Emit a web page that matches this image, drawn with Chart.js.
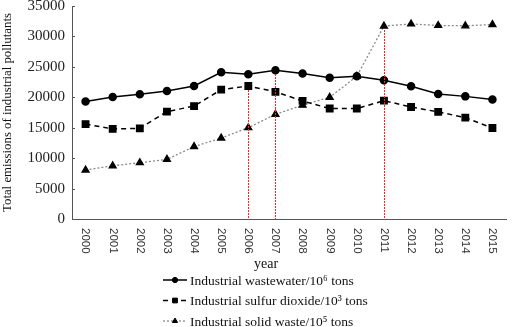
<!DOCTYPE html>
<html>
<head>
<meta charset="utf-8">
<script src="https://cdn.jsdelivr.net/npm/chart.js@4"></script>
<style>
  html, body { margin: 0; padding: 0; background: #fff; }
  #wrap { width: 512px; height: 327px; }
</style>
</head>
<body>
<div id="wrap"><canvas id="chart" width="512" height="327"></canvas></div>
<script>
// DATA
const years = ['2000', '2001', '2002', '2003', '2004', '2005', '2006', '2007',
               '2008', '2009', '2010', '2011', '2012', '2013', '2014', '2015'];
const wastewater = [19300, 20050, 20500, 21050, 21850, 24100, 23800, 24450,
                    23900, 23200, 23450, 22800, 21800, 20550, 20150, 19650];
const sulfurDioxide = [15600, 14800, 14900, 17650, 18550, 21250, 21850, 20900,
                       19400, 18150, 18150, 19450, 18400, 17600, 16650, 14950];
const solidWaste = [8050, 8750, 9250, 9800, 11900, 13300, 15000, 17200,
                    18700, 20000, 23450, 31700, 32050, 31800, 31750, 31950];
const seriesNames = ['Industrial wastewater/10\u2076 tons',
                     'Industrial sulfur dioxide/10\u00B3 tons',
                     'Industrial solid waste/10\u2075 tons'];
const yTicks = [0, 5000, 10000, 15000, 20000, 25000, 30000, 35000];
// red dotted markers: year and the series whose point they reach
const markYears = ['2006', '2007', '2011'];
const markSeries = [1, 0, 2];

const SERIF = '"Liberation Serif", "Times New Roman", serif';
const SANS = '"Liberation Sans", Arial, sans-serif';

// --- extra drawing: rotated year labels, axis title, red markers, legend ---
const extras = {
    id: 'extras',
    afterDatasetsDraw(chart) {
        const ctx = chart.ctx;
        const x = chart.scales.x, y = chart.scales.y;
        ctx.save();
        ctx.fillStyle = '#ff2020';
        markYears.forEach((yr, i) => {
            const idx = years.indexOf(yr);
            const val = chart.data.datasets[markSeries[i]].data[idx];
            const px = Math.round(x.getPixelForValue(idx));
            const top = Math.round(y.getPixelForValue(val)) + 4;
            const bottom = Math.round(y.getPixelForValue(0));
            // dotted: 2px on, 1px off
            for (let py = top; py < bottom; py += 3) {
                ctx.fillRect(px, py, 1, Math.min(2, bottom - py));
            }
        });
        ctx.restore();
    },
    afterDraw(chart) {
        const ctx = chart.ctx;
        const x = chart.scales.x, y = chart.scales.y;
        ctx.save();
        // year labels, rotated to read top to bottom
        ctx.fillStyle = '#333';
        ctx.font = '11.5px ' + SANS;
        ctx.textAlign = 'left';
        ctx.textBaseline = 'middle';
        years.forEach((yr, i) => {
            ctx.save();
            ctx.translate(x.getPixelForValue(i), y.bottom + 9);
            ctx.rotate(Math.PI / 2);
            ctx.fillText(yr, 0, 0);
            ctx.restore();
        });
        // small inward tick marks on the y axis
        ctx.strokeStyle = '#555';
        ctx.lineWidth = 1;
        yTicks.forEach(v => {
            const py = Math.round(y.getPixelForValue(v)) + 0.5;
            ctx.beginPath();
            ctx.moveTo(x.left, py);
            ctx.lineTo(x.left + 3, py);
            ctx.stroke();
        });
        // x axis title
        ctx.fillStyle = '#111';
        ctx.font = '14px ' + SERIF;
        ctx.textAlign = 'center';
        ctx.fillText('year', 266, 264);
        // legend, one entry per row
        ctx.textAlign = 'left';
        ctx.font = '13.5px ' + SERIF;
        chart.data.datasets.forEach((ds, i) => {
            const ly = 280 + i * 20.5;
            ctx.save();
            ctx.strokeStyle = ds.borderColor;
            ctx.lineWidth = ds.borderWidth;
            ctx.setLineDash(ds.borderDash || []);
            ctx.beginPath();
            ctx.moveTo(163, ly);
            ctx.lineTo(187, ly);
            ctx.stroke();
            ctx.restore();
            ctx.save();
            ctx.fillStyle = '#000';
            ctx.strokeStyle = '#000';
            ctx.lineWidth = 1;
            Chart.helpers.drawPoint(ctx, {
                pointStyle: ds.pointStyle,
                radius: ds.pointRadius * 0.75,
                borderWidth: 1
            }, 175, ly);
            ctx.restore();
            ctx.fillStyle = '#111';
            ctx.fillText(ds.label, 190, ly + 1);
        });
        ctx.restore();
    }
};

new Chart(document.getElementById('chart'), {
    type: 'line',
    data: {
        labels: years,
        datasets: [
            {
                label: seriesNames[0],
                data: wastewater,
                borderColor: '#000',
                backgroundColor: '#000',
                borderWidth: 1.5,
                pointStyle: 'circle',
                pointRadius: 3.5,
                tension: 0
            },
            {
                label: seriesNames[1],
                data: sulfurDioxide,
                borderColor: '#000',
                backgroundColor: '#000',
                borderWidth: 1.5,
                borderDash: [5, 4],
                pointStyle: 'rect',
                pointRadius: 4.5,
                tension: 0
            },
            {
                label: seriesNames[2],
                data: solidWaste,
                borderColor: '#8a8a8a',
                backgroundColor: '#000',
                pointBorderColor: '#000',
                borderWidth: 1.3,
                borderDash: [2, 2],
                pointStyle: 'triangle',
                pointRadius: 4,
                tension: 0
            }
        ]
    },
    options: {
        responsive: false,
        animation: false,
        layout: { padding: { top: 6, right: 2, left: 0, bottom: 0 } },
        plugins: {
            legend: { display: false },
            tooltip: { enabled: false }
        },
        scales: {
            x: {
                offset: true,
                grid: { display: false, drawTicks: false },
                border: { color: '#555', width: 1 },
                ticks: { display: false },
                afterFit(scale) {
                    scale.height = 108;
                    scale.paddingLeft = 0;
                    scale.paddingRight = 0;
                }
            },
            y: {
                min: 0,
                max: 35000,
                afterBuildTicks(scale) { scale.ticks = yTicks.map(v => ({ value: v })); },
                grid: { display: false, drawTicks: false },
                border: { color: '#555', width: 1 },
                ticks: {
                    color: '#222',
                    padding: 7,
                    font: { family: SERIF, size: 15 },
                    callback: v => String(v)
                },
                title: {
                    display: true,
                    text: 'Total emissions of industrial pollutants',
                    color: '#111',
                    padding: { top: 0, bottom: 0 },
                    font: { family: SERIF, size: 12.8 }
                },
                afterFit(scale) {
                    scale.width = 72;
                    scale.paddingTop = 0;
                    scale.paddingBottom = 0;
                }
            }
        }
    },
    plugins: [extras]
});
</script>
</body>
</html>
